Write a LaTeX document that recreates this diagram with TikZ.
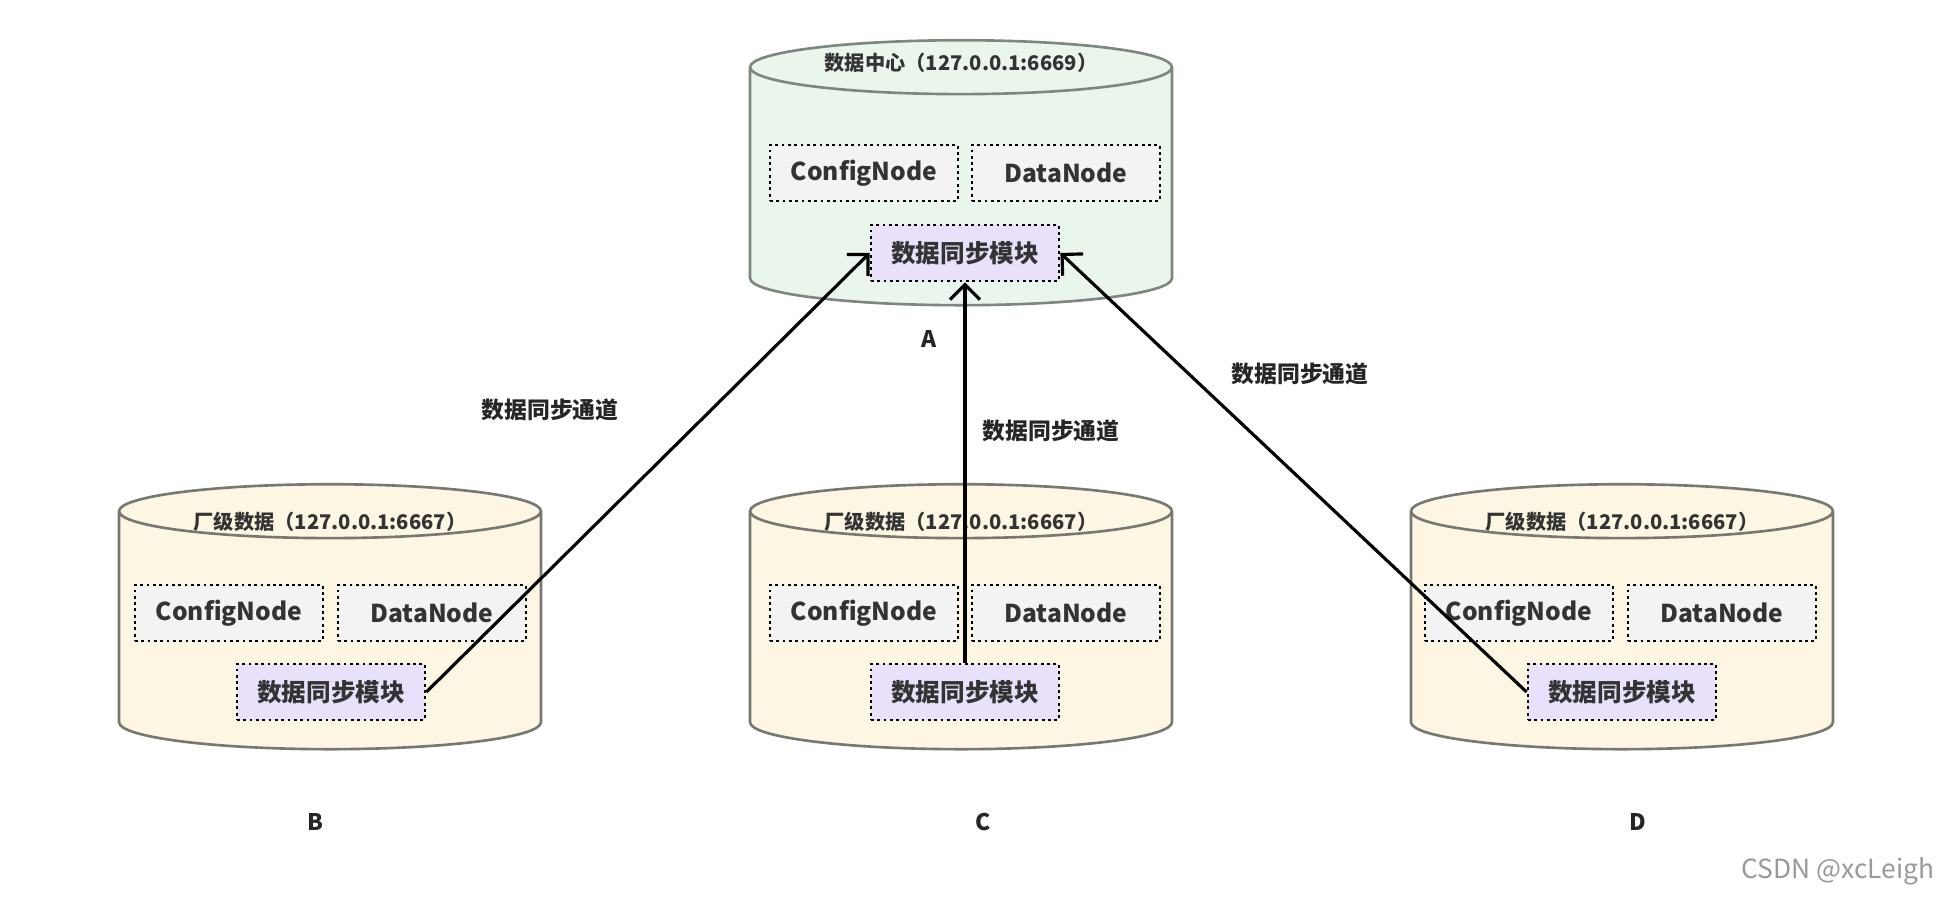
\documentclass[tikz,border=0pt]{standalone}
\usepackage{fontspec}
\setmainfont{Noto Sans CJK SC}
\usetikzlibrary{positioning}
\usetikzlibrary{shapes.geometric}
\usetikzlibrary{arrows.meta}
\definecolor{centergreen}{RGB}{234,245,236}
\definecolor{centeredge}{RGB}{125,135,128}
\definecolor{factorycream}{RGB}{253,246,226}
\definecolor{factoryedge}{RGB}{120,120,115}
\definecolor{boxgray}{RGB}{243,243,243}
\definecolor{synclilac}{RGB}{233,224,250}
\tikzset{
    dbCyl/.style={cylinder, shape border rotate=90, aspect=4.6, line width=1.5pt, minimum width=8.44cm, minimum height=5.3cm},
    innerBox/.style={draw=black, dotted, line width=1.6pt, fill=boxgray, minimum width=3.76cm, minimum height=1.12cm, font=\bfseries\fontsize{14}{16}\selectfont, text=black!80},
    syncBox/.style={innerBox, fill=synclilac},
    cylTitle/.style={font=\bfseries\fontsize{11.5}{13}\selectfont, text=black!80},
    siteLabel/.style={font=\bfseries\fontsize{13}{15}\selectfont, text=black!85},
    syncLink/.style={-{Straight Barb[length=3mm,width=6mm]}, line width=1.8pt}
}
\begin{document}
\begin{tikzpicture}[x=0.02cm, y=-0.02cm]
    \useasboundingbox (0,0) rectangle (1938,902);

    % Data centre
    \node[dbCyl, draw=centeredge, fill=centergreen] (cylA) at (961,190) {};
    \node[cylTitle] (titleA) at (961,63) {数据中心（127.0.0.1:6669）};
    \node[innerBox] (cfgA) at (864,173) {ConfigNode};
    \node[innerBox] (dataA) at (1066,173) {DataNode};
    \node[syncBox] (syncA) at (965,253) {数据同步模块};
    \node[siteLabel] (labA) at (929,339) {A};

    % Factories
    \foreach \name/\cx/\cfx/\dx/\sx in {B/330/229/432/331, C/961/864/1066/965, D/1622/1519/1722/1622} {
        \node[dbCyl, draw=factoryedge, fill=factorycream] (cyl\name) at (\cx,634) {};
        \node[cylTitle] (title\name) at (\cx,522) {厂级数据（127.0.0.1:6667）};
        \node[innerBox] (cfg\name) at (\cfx,613) {ConfigNode};
        \node[innerBox] (data\name) at (\dx,613) {DataNode};
        \node[syncBox] (sync\name) at (\sx,692) {数据同步模块};
    }
    \node[siteLabel] (labB) at (315,822) {B};
    \node[siteLabel] (labC) at (983,822) {C};
    \node[siteLabel] (labD) at (1638,822) {D};

    % Sync channels
    \draw[syncLink] (syncB.east) -- (syncA.west);
    \draw[syncLink] (syncC.north) -- (syncA.south);
    \draw[syncLink] (syncD.west) -- (syncA.east);
    \node[siteLabel] (chanB) at (550,410) {数据同步通道};
    \node[siteLabel] (chanC) at (1051,431) {数据同步通道};
    \node[siteLabel] (chanD) at (1300,374) {数据同步通道};

    \node[font=\fontsize{15}{17}\selectfont, text=black!40] (mark) at (1838,871) {CSDN @xcLeigh};
\end{tikzpicture}
\end{document}
